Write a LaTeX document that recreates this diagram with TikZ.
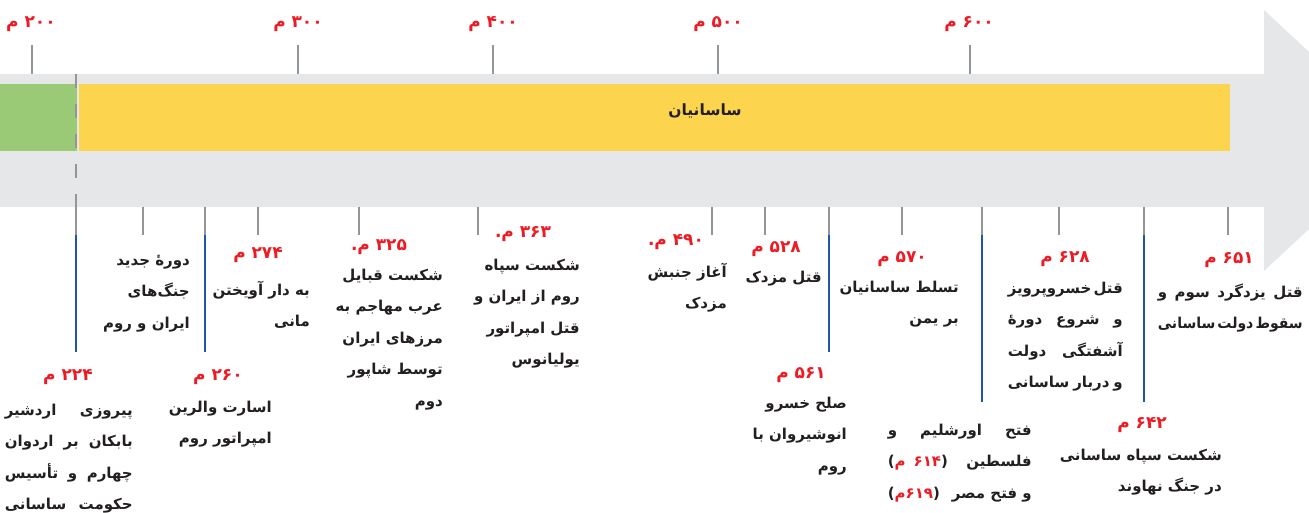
\documentclass[tikz,border=0pt]{standalone}
\usepackage{fontspec}
\newfontfamily\fa[Script=Arabic]{DejaVu Sans}
\newfontfamily\la{DejaVu Sans}
\TeXXeTstate=1
\definecolor{band}{HTML}{E6E7E8}
\definecolor{grn}{HTML}{9BCA77}
\definecolor{yel}{HTML}{FDD44E}
\definecolor{redA}{HTML}{ED1C24}
\definecolor{tgray}{HTML}{939598}
\definecolor{blueA}{HTML}{1F56A8}
\definecolor{txt}{HTML}{231F20}
\newcommand\R[1]{\beginR #1\endR}
\newcommand\F{\rule{0pt}{20pt}}
\newsavebox\jbox
\newcommand\J[2]{\sbox\jbox{\spaceskip=0.15em\relax #2}\ifdim\wd\jbox>#1pt\relax\resizebox{#1pt}{\height}{\usebox\jbox}\else\hbox to #1pt{\spaceskip=0.25em plus 30em\relax #2}\fi}
\newcommand\rednum[2]{\hbox{\la\bfseries(}{\color{redA}\hbox{م}\hspace{#2}\hbox{#1}}\hbox{\la\bfseries)}}
\tikzset{
  lbl/.style={font=\fa\bfseries\fontsize{15}{31.5}\selectfont, text=txt, inner sep=0pt, align=right, anchor=north east},
  num/.style={font=\fa\bfseries\fontsize{17}{18}\selectfont, text=redA, inner sep=0pt, anchor=base},
  tickline/.style={draw=tgray, line width=2pt},
  eraline/.style={draw=blueA, line width=2.4pt},
}
\begin{document}
\begin{tikzpicture}[x=1pt,y=-1pt]
\useasboundingbox (0,0) rectangle (1309,512);
\clip (0,0) rectangle (1309,512);
% band with arrow head
\fill[band] (0,74) -- (1264,74) -- (1264,10) -- (1404,140.5) -- (1264,271) -- (1264,207) -- (0,207) -- cycle;
\fill[grn] (0,84) rectangle (77,151);
\fill[yel] (79,84) rectangle (1230,151);
\draw[tickline, dash pattern=on 14pt off 16pt] (76,74) -- (76,207);
\node[font=\fa\bfseries\fontsize{15.5}{16}\selectfont, text=txt, inner sep=0pt, anchor=base] (sasan) at (705,115) {\R{ساسانیان}};
% top ticks
\foreach \x in {32,298,493,718,970} \draw[tickline] (\x,45) -- (\x,74);
% bottom ticks
\foreach \x in {76,143,205,258,359,478,712,765,829,902,982,1059,1144,1228} \draw[tickline] (\x,207) -- (\x,235);
\draw[eraline] (76,235) -- (76,352);
\draw[eraline] (205,235) -- (205,352);
\draw[eraline] (829,235) -- (829,352);
\draw[eraline] (982,235) -- (982,402);
\draw[eraline] (1144,235) -- (1144,402);
% top year labels
\node[num] (y200) at (31,27) {\R{۲۰۰ م}};
\node[num] (y300) at (298,27) {\R{۳۰۰ م}};
\node[num] (y400) at (493,27) {\R{۴۰۰ م}};
\node[num] (y500) at (718,27) {\R{۵۰۰ م}};
\node[num] (y600) at (969,27) {\R{۶۰۰ م}};
% event years
\node[num] (n224) at (68,380) {\R{۲۲۴ م}};
\node[num] (n260) at (218,380) {\R{۲۶۰ م}};
\node[num] (n274) at (258,258) {\R{۲۷۴ م}};
\node[num] (n325) at (379,250) {\R{۳۲۵ م.}};
\node[num] (n363) at (523,237) {\R{۳۶۳ م.}};
\node[num] (n490) at (676,245) {\R{۴۹۰ م.}};
\node[num] (n528) at (776,252) {\R{۵۲۸ م}};
\node[num] (n561) at (801,378) {\R{۵۶۱ م}};
\node[num] (n570) at (902,262) {\R{۵۷۰ م}};
\node[num] (n628) at (1065,262) {\R{۶۲۸ م}};
\node[num] (n642) at (1142,428) {\R{۶۴۲ م}};
\node[num] (n651) at (1229,263) {\R{۶۵۱ م}};
% event texts
\node[lbl] (e224) at (133,395) {\J{128}{\R{\F پیروزی اردشیر}}\\ \J{128}{\R{بابکان بر اردوان}}\\ \J{128}{\R{چهارم و تأسیس}}\\ \J{128}{\R{حکومت ساسانی}}};
\node[lbl] (e230) at (190,245) {\R{\F دورهٔ جدید}\\ \R{جنگ‌های}\\ \R{ایران و روم}};
\node[lbl] (e260) at (272,392) {\R{\F اسارت والرین}\\ \R{امپراتور روم}};
\node[lbl] (e274) at (310,275) {\R{\F به دار آویختن}\\ \R{مانی}};
\node[lbl] (e325) at (443,260) {\R{\F شکست قبایل}\\ \R{عرب مهاجم به}\\ \R{مرزهای ایران}\\ \R{توسط شاپور}\\ \R{دوم}};
\node[lbl] (e363) at (580,250) {\R{\F شکست سپاه}\\ \R{روم از ایران و}\\ \R{قتل امپراتور}\\ \R{یولیانوس}};
\node[lbl] (e490) at (727,257) {\R{\F آغاز جنبش}\\ \R{مزدک}};
\node[lbl] (e528) at (822,262) {\R{\F قتل مزدک}};
\node[lbl] (e561) at (847,388) {\R{\F صلح خسرو}\\ \R{انوشیروان با}\\ \R{روم}};
\node[lbl] (e570) at (959,272) {\R{\F تسلط ساسانیان}\\ \R{بر یمن}};
\node[lbl] (e614) at (1032,415) {\J{144}{\R{\F فتح اورشلیم و}}\\ \hbox to 144pt{\rednum{۶۱۴}{8pt}\hfill\R{فلسطین}}\\ \hbox to 144pt{\rednum{۶۱۹}{0pt}\hfill\R{و فتح مصر}}};
\node[lbl] (e628) at (1123,273) {\J{115}{\R{\F قتل خسروپرویز}}\\ \J{115}{\R{و شروع دورهٔ}}\\ \J{115}{\R{آشفتگی دولت}}\\ \J{115}{\R{و دربار ساسانی}}};
\node[lbl] (e642) at (1222,440) {\R{\F شکست سپاه ساسانی}\\ \R{در جنگ نهاوند}};
\node[lbl] (e651) at (1303,277) {\J{145}{\R{\F قتل یزدگرد سوم و}}\\ \J{145}{\R{سقوط دولت ساسانی}}};
\end{tikzpicture}
\end{document}
